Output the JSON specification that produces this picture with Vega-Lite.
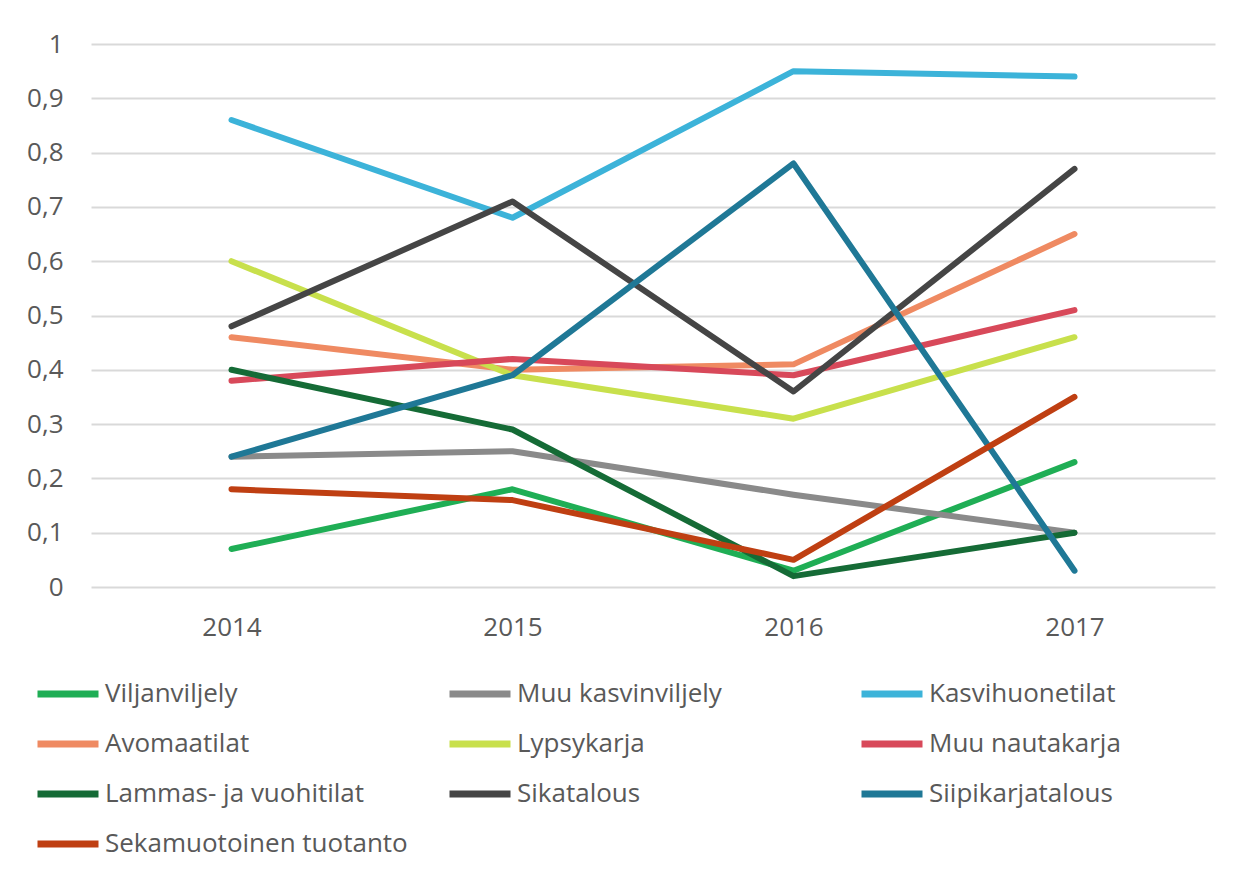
{
  "$schema": "https://vega.github.io/schema/vega-lite/v6.json",
  "width": 1124,
  "height": 543,
  "autosize": "none",
  "padding": {"left": 91, "top": 44, "right": 30, "bottom": 295},
  "background": "white",
  "data": {
    "values": [
      {"sarja": "Viljanviljely", "vuosi": "2014", "arvo": 0.07},
      {"sarja": "Viljanviljely", "vuosi": "2015", "arvo": 0.18},
      {"sarja": "Viljanviljely", "vuosi": "2016", "arvo": 0.03},
      {"sarja": "Viljanviljely", "vuosi": "2017", "arvo": 0.23},
      {"sarja": "Muu kasvinviljely", "vuosi": "2014", "arvo": 0.24},
      {"sarja": "Muu kasvinviljely", "vuosi": "2015", "arvo": 0.25},
      {"sarja": "Muu kasvinviljely", "vuosi": "2016", "arvo": 0.17},
      {"sarja": "Muu kasvinviljely", "vuosi": "2017", "arvo": 0.10},
      {"sarja": "Kasvihuonetilat", "vuosi": "2014", "arvo": 0.86},
      {"sarja": "Kasvihuonetilat", "vuosi": "2015", "arvo": 0.68},
      {"sarja": "Kasvihuonetilat", "vuosi": "2016", "arvo": 0.95},
      {"sarja": "Kasvihuonetilat", "vuosi": "2017", "arvo": 0.94},
      {"sarja": "Avomaatilat", "vuosi": "2014", "arvo": 0.46},
      {"sarja": "Avomaatilat", "vuosi": "2015", "arvo": 0.40},
      {"sarja": "Avomaatilat", "vuosi": "2016", "arvo": 0.41},
      {"sarja": "Avomaatilat", "vuosi": "2017", "arvo": 0.65},
      {"sarja": "Lypsykarja", "vuosi": "2014", "arvo": 0.60},
      {"sarja": "Lypsykarja", "vuosi": "2015", "arvo": 0.39},
      {"sarja": "Lypsykarja", "vuosi": "2016", "arvo": 0.31},
      {"sarja": "Lypsykarja", "vuosi": "2017", "arvo": 0.46},
      {"sarja": "Muu nautakarja", "vuosi": "2014", "arvo": 0.38},
      {"sarja": "Muu nautakarja", "vuosi": "2015", "arvo": 0.42},
      {"sarja": "Muu nautakarja", "vuosi": "2016", "arvo": 0.39},
      {"sarja": "Muu nautakarja", "vuosi": "2017", "arvo": 0.51},
      {"sarja": "Lammas- ja vuohitilat", "vuosi": "2014", "arvo": 0.40},
      {"sarja": "Lammas- ja vuohitilat", "vuosi": "2015", "arvo": 0.29},
      {"sarja": "Lammas- ja vuohitilat", "vuosi": "2016", "arvo": 0.02},
      {"sarja": "Lammas- ja vuohitilat", "vuosi": "2017", "arvo": 0.10},
      {"sarja": "Sikatalous", "vuosi": "2014", "arvo": 0.48},
      {"sarja": "Sikatalous", "vuosi": "2015", "arvo": 0.71},
      {"sarja": "Sikatalous", "vuosi": "2016", "arvo": 0.36},
      {"sarja": "Sikatalous", "vuosi": "2017", "arvo": 0.77},
      {"sarja": "Siipikarjatalous", "vuosi": "2014", "arvo": 0.24},
      {"sarja": "Siipikarjatalous", "vuosi": "2015", "arvo": 0.39},
      {"sarja": "Siipikarjatalous", "vuosi": "2016", "arvo": 0.78},
      {"sarja": "Siipikarjatalous", "vuosi": "2017", "arvo": 0.03},
      {"sarja": "Sekamuotoinen tuotanto", "vuosi": "2014", "arvo": 0.18},
      {"sarja": "Sekamuotoinen tuotanto", "vuosi": "2015", "arvo": 0.16},
      {"sarja": "Sekamuotoinen tuotanto", "vuosi": "2016", "arvo": 0.05},
      {"sarja": "Sekamuotoinen tuotanto", "vuosi": "2017", "arvo": 0.35}
    ]
  },
  "mark": {"type": "line", "strokeWidth": 6, "strokeCap": "round", "strokeJoin": "round"},
  "encoding": {
    "x": {
      "field": "vuosi",
      "type": "ordinal",
      "scale": {"type": "point", "padding": 0.5},
      "axis": {"title": null, "labelAngle": 0, "domain": false, "ticks": false, "labelPadding": 27, "labelFontSize": 26, "labelColor": "#595959", "labelFont": "Open Sans", "grid": false}
    },
    "y": {
      "field": "arvo",
      "type": "quantitative",
      "scale": {"domain": [0, 1], "nice": false},
      "axis": {"title": null, "values": [0, 0.1, 0.2, 0.3, 0.4, 0.5, 0.6, 0.7, 0.8, 0.9, 1], "labelExpr": "replace(format(datum.value, '~g'), '.', ',')", "domain": false, "ticks": false, "labelPadding": 28, "labelFontSize": 26, "labelColor": "#595959", "labelFont": "Open Sans", "gridColor": "#d9d9d9", "gridWidth": 2}
    },
    "color": {
      "field": "sarja",
      "type": "nominal",
      "sort": null,
      "scale": {
        "domain": ["Viljanviljely", "Muu kasvinviljely", "Kasvihuonetilat", "Avomaatilat", "Lypsykarja", "Muu nautakarja", "Lammas- ja vuohitilat", "Sikatalous", "Siipikarjatalous", "Sekamuotoinen tuotanto"],
        "range": ["#1fae55", "#8a8a8a", "#3cb3d9", "#ef8a62", "#c8e04c", "#d8495a", "#156b36", "#454545", "#1f7896", "#bf3f12"]
      },
      "legend": {
        "title": null,
        "orient": "none",
        "direction": "horizontal",
        "legendX": -57,
        "legendY": 616,
        "columns": 3,
        "columnPadding": 27,
        "rowPadding": 2,
        "symbolType": "stroke",
        "symbolSize": 3721,
        "symbolStrokeWidth": 7,
        "labelOffset": 3,
        "labelFontSize": 26,
        "labelFont": "Open Sans",
        "labelColor": "#595959",
        "labelLimit": 0,
        "gridAlign": "all"
      }
    }
  },
  "config": {"view": {"stroke": null}}
}
